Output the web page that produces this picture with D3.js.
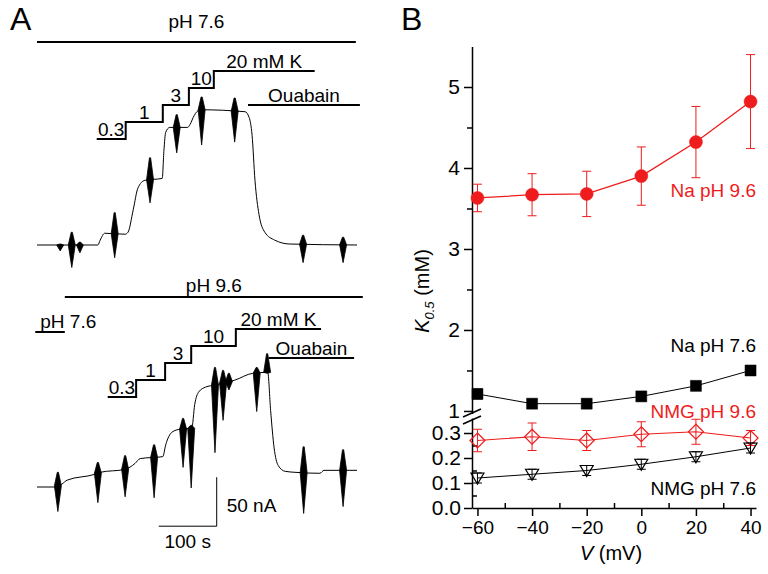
<!DOCTYPE html>
<html>
<head>
<meta charset="utf-8">
<script src="https://cdn.jsdelivr.net/npm/d3@7"></script>
<style>
  body { margin: 0; background: #fff; }
  text { font-family: Arial, "Liberation Sans", sans-serif; fill: #000; }
</style>
</head>
<body>
<script>
// ---- panel A: current traces, [time (s), current (nA)] ----
const trace76 = [[0,0],[40,0],[105,0],[109,5],[117,12],[152,11],[157,13],[166,36],[174,58],[186,66],
  [216,68],[219,97],[222,115],[229,120],[260,120],[264,123],[271,132],[281,138],[359,136],[366,130],
  [371,112],[376,66],[383,31],[393,13],[410,5],[436,1],[552,0]];
// oscillation bursts: [time, max, min]
const bursts76 = [[40,1,-6],[60,13,-23],[74,3,-8],[134,33,-13],[195,89,43],[241,133,94],
  [284,151,102],[341,150,105],[459,10,-18],[528,8,-18]];

const trace96 = [[0,0],[31,0],[43,3],[52,7],[100,13],[109,15],[152,18],[169,24],[178,29],[217,31],
  [222,43],[233,56],[247,59],[267,60],[272,84],[279,97],[291,102],[307,104],[341,109],[372,116],
  [398,117],[403,78],[409,40],[416,22],[428,16],[445,15],[488,14],[495,17],[552,17]];
const bursts96 = [[36,15,-25],[105,25,-16],[152,32,-10],[202,43,-11],[252,70,20],[266,63,-1],
  [307,122,35],[321,119,68],[331,116,99],[379,122,77],[397,136,116],[460,41,-27],[528,38,-20]];

const kLabels = ['0.3', '1', '3', '10', '20 mM K'];
const kSteps76 = [103, 153, 217, 262, 305, 479];
const kSteps96 = [122, 171, 221, 266, 343, 490];
const ouabain76 = [364, 557];
const ouabain96 = [400, 547];
const ph76Bar = [0, 550];
const ph96Bar = [48, 562];
const ph76PreBar = [-3, 48];

// ---- panel B: K0.5 (mM) vs V (mV) ----
const voltages = [-60, -40, -20, 0, 20, 40];
const naPH96 = [3.63, 3.67, 3.68, 3.90, 4.32, 4.82];
const naPH96Err = [0.17, 0.26, 0.28, 0.36, 0.44, 0.58];
const naPH76 = [1.21, 1.09, 1.09, 1.18, 1.31, 1.50];
const naPH76Err = [0.06, 0.02, 0.02, 0.05, 0.05, 0.05];
const nmgPH96 = [0.27, 0.285, 0.27, 0.295, 0.305, 0.28];
const nmgPH96Err = [0.045, 0.055, 0.04, 0.05, 0.05, 0.03];
const nmgPH76 = [0.12, 0.135, 0.15, 0.175, 0.205, 0.24];
const nmgPH76Err = [0.02, 0.02, 0.02, 0.02, 0.02, 0.02];

const red = '#ee1c1c';

const svg = d3.select('body').append('svg')
  .attr('width', 768)
  .attr('height', 574);

// panel letters
svg.append('text').attr('x', 10).attr('y', 30).style('font-size', '32px').text('A');
svg.append('text').attr('x', 401).attr('y', 30).style('font-size', '32px').text('B');

// ================= panel A =================
const xA = d3.scaleLinear().domain([0, 552]).range([37, 357]);   // 100 s = 58 px
const y76 = d3.scaleLinear().domain([0, 50]).range([245, 196]);  // 50 nA = 49 px
const y96 = d3.scaleLinear().domain([0, 50]).range([487, 438]);

function levelAt (trace, t) {
  const i = Math.max(1, Math.min(trace.length - 1, d3.bisector(d => d[0]).right(trace, t)));
  const a = trace[i - 1], b = trace[i];
  return a[1] + (b[1] - a[1]) * (t - a[0]) / (b[0] - a[0]);
}

function drawTrace (trace, bursts, y) {
  const g = svg.append('g');
  g.append('path')
    .attr('d', d3.line().x(d => xA(d[0])).y(d => y(d[1])).curve(d3.curveMonotoneX)(trace))
    .attr('fill', 'none')
    .attr('stroke', '#000')
    .attr('stroke-width', 1);

  const hw = 6;  // half width of a burst in s
  g.selectAll('.burst').data(bursts).enter()
    .append('path')
      .attr('class', 'burst')
      .attr('d', d => {
        const lvl = levelAt(trace, d[0]);
        return 'M' + [
          [xA(d[0] - hw), y(lvl)], [xA(d[0] - 1), y(d[1])], [xA(d[0] + 1), y(d[1])],
          [xA(d[0] + hw), y(lvl)], [xA(d[0]), y(d[2])]
        ].join('L') + 'Z';
      })
      .attr('fill', '#000')
      .attr('stroke', '#000')
      .attr('stroke-width', 0.8);
}

function drawSteps (steps, y0, dy) {
  const g = svg.append('g');
  let d = `M${xA(steps[0])},${y0}`;
  for (let i = 1; i < steps.length; i++) {
    d += `H${xA(steps[i])}`;
    if (i < steps.length - 1) d += `V${y0 - i * dy}`;
  }
  g.append('path').attr('d', d).attr('fill', 'none').attr('stroke', '#000').attr('stroke-width', 2);
  kLabels.forEach((k, i) => {
    g.append('text')
      .attr('x', (xA(steps[i]) + xA(steps[i + 1])) / 2)
      .attr('y', y0 - i * dy - 3)
      .attr('text-anchor', 'middle')
      .style('font-size', '19px')
      .text(k);
  });
}

function drawBar (span, y, label, ty, anchor) {
  svg.append('line')
    .attr('x1', xA(span[0])).attr('x2', xA(span[1]))
    .attr('y1', y).attr('y2', y)
    .attr('stroke', '#000').attr('stroke-width', 2);
  if (!label) return;
  svg.append('text')
    .attr('x', anchor === 'start' ? xA(span[0]) + 5 : (xA(span[0]) + xA(span[1])) / 2)
    .attr('y', ty)
    .attr('text-anchor', anchor || 'middle')
    .style('font-size', '19px')
    .text(label);
}

// top trace, pH 7.6
drawBar(ph76Bar, 42, 'pH 7.6', 28);
drawSteps(kSteps76, 139, 17);
drawBar(ouabain76, 105, 'Ouabain', 102);
drawTrace(trace76, bursts76, y76);

// bottom trace, pH 9.6
drawBar(ph96Bar, 297, 'pH 9.6', 292);
drawBar(ph76PreBar, 332, 'pH 7.6', 328, 'start');
drawSteps(kSteps96, 397, 17);
drawBar(ouabain96, 358, 'Ouabain', 355);
drawTrace(trace96, bursts96, y96);

// scale bar: 100 s, 50 nA
const sb = {t: 310, i: -40};
svg.append('path')
  .attr('d', `M${xA(sb.t - 100)},${y96(sb.i)}H${xA(sb.t)}V${y96(sb.i + 50)}`)
  .attr('fill', 'none').attr('stroke', '#000').attr('stroke-width', 1);
svg.append('text').attr('x', xA(sb.t) + 10).attr('y', y96(sb.i + 15)).style('font-size', '19px').text('50 nA');
svg.append('text').attr('x', xA(sb.t - 50)).attr('y', y96(sb.i) + 22)
  .attr('text-anchor', 'middle').style('font-size', '19px').text('100 s');

// ================= panel B =================
const xB = d3.scaleLinear().domain([-62, 42]).range([472, 756]);
const yHi = d3.scaleLinear().domain([0.97, 5.5]).range([413.4, 46.5]);
const yLo = d3.scaleLinear().domain([0, 0.36]).range([508, 418]);
const yB = v => v >= 0.9 ? yHi(v) : yLo(v);

const axes = svg.append('g');

// x axis: major ticks out, minor ticks in
axes.append('g')
  .attr('transform', 'translate(0,508)')
  .call(d3.axisBottom(xB).tickValues(voltages).tickSize(8).tickSizeOuter(0).tickPadding(5))
  .call(g => g.selectAll('text').style('font-size', '19px').attr('fill', '#000'));
axes.append('g')
  .attr('transform', 'translate(0,508)')
  .call(d3.axisBottom(xB).tickValues([-50, -30, -10, 10, 30]).tickSize(-5).tickFormat(''))
  .call(g => g.select('.domain').remove());

// y axis upper segment
axes.append('g')
  .attr('transform', 'translate(472,0)')
  .call(d3.axisLeft(yHi).tickValues([1, 2, 3, 4, 5]).tickFormat(d3.format('d'))
    .tickSize(8).tickSizeOuter(0).tickPadding(4))
  .call(g => g.selectAll('text').style('font-size', '21px').attr('fill', '#000'));
axes.append('g')
  .attr('transform', 'translate(472,0)')
  .call(d3.axisLeft(yHi).tickValues([1.5, 2.5, 3.5, 4.5]).tickSize(5).tickFormat(''))
  .call(g => g.select('.domain').remove());

// y axis lower segment
axes.append('g')
  .attr('transform', 'translate(472,0)')
  .call(d3.axisLeft(yLo).tickValues([0, 0.1, 0.2, 0.3]).tickFormat(d3.format('.1f'))
    .tickSize(8).tickSizeOuter(0).tickPadding(3))
  .call(g => g.selectAll('text').style('font-size', '21px').attr('fill', '#000'));
axes.append('g')
  .attr('transform', 'translate(472,0)')
  .call(d3.axisRight(yLo).tickValues([0.05, 0.15, 0.25]).tickSize(5).tickFormat(''))
  .call(g => g.select('.domain').remove());

axes.selectAll('.domain, .tick line').attr('stroke', '#000').attr('stroke-width', 1.5);

// axis break marks
[0, 7].forEach(off => {
  axes.append('line')
    .attr('x1', 463).attr('y1', 417 + off)
    .attr('x2', 481).attr('y2', 409 + off)
    .attr('stroke', '#000').attr('stroke-width', 1.5);
});
axes.append('rect').attr('x', 470).attr('y', 415).attr('width', 4).attr('height', 3).attr('fill', '#fff');

// axis titles
const yTitle = axes.append('text')
  .attr('transform', 'translate(429,291) rotate(-90)')
  .attr('text-anchor', 'middle')
  .style('font-size', '20px');
yTitle.append('tspan').style('font-style', 'italic').text('K');
yTitle.append('tspan').style('font-style', 'italic').style('font-size', '13px').attr('dy', 5).text('0.5');
yTitle.append('tspan').attr('dy', -5).text(' (mM)');

const xTitle = axes.append('text')
  .attr('x', 611).attr('y', 560)
  .attr('text-anchor', 'middle')
  .style('font-size', '20px');
xTitle.append('tspan').style('font-style', 'italic').text('V');
xTitle.append('tspan').text(' (mV)');

// series
const series = [
  {vals: naPH96, err: naPH96Err, color: red, sym: 'circle', lw: 1.3},
  {vals: naPH76, err: naPH76Err, color: '#000', sym: 'square', lw: 1},
  {vals: nmgPH96, err: nmgPH96Err, color: red, sym: 'diamond', lw: 1.2},
  {vals: nmgPH76, err: nmgPH76Err, color: '#000', sym: 'triangleDown', lw: 1}
];

const symbolPath = {
  circle: 'M-6.5,0A6.5,6.5 0 1,0 6.5,0A6.5,6.5 0 1,0 -6.5,0Z',
  square: 'M-5.5,-5.5H5.5V5.5H-5.5Z',
  diamond: 'M0,-7.5L7.5,0L0,7.5L-7.5,0Z',
  triangleDown: 'M-6.5,-5L6.5,-5L0,6Z'
};

const line = d3.line().x(d => xB(d.v)).y(d => yB(d.k));

series.forEach(s => {
  const pts = voltages.map((v, i) => ({v, k: s.vals[i], e: s.err[i]}));
  const g = svg.append('g');

  g.append('path')
    .attr('d', line(pts))
    .attr('fill', 'none')
    .attr('stroke', s.color)
    .attr('stroke-width', s.lw);

  const eb = g.selectAll('.err').data(pts).enter().append('g').attr('class', 'err');
  eb.append('line')
    .attr('x1', d => xB(d.v)).attr('x2', d => xB(d.v))
    .attr('y1', d => yB(d.k - d.e)).attr('y2', d => yB(d.k + d.e));
  eb.append('line')
    .attr('x1', d => xB(d.v) - 4.5).attr('x2', d => xB(d.v) + 4.5)
    .attr('y1', d => yB(d.k - d.e)).attr('y2', d => yB(d.k - d.e));
  eb.append('line')
    .attr('x1', d => xB(d.v) - 4.5).attr('x2', d => xB(d.v) + 4.5)
    .attr('y1', d => yB(d.k + d.e)).attr('y2', d => yB(d.k + d.e));
  eb.selectAll('line').attr('stroke', s.color).attr('stroke-width', 1);

  const filled = s.sym === 'circle' || s.sym === 'square';
  g.selectAll('.pt').data(pts).enter()
    .append('path')
      .attr('class', 'pt')
      .attr('transform', d => `translate(${xB(d.v)},${yB(d.k)})`)
      .attr('d', symbolPath[s.sym])
      .attr('fill', filled ? s.color : 'none')
      .attr('stroke', s.color)
      .attr('stroke-width', filled ? 0.5 : 1.2);
});

// series labels
const labels = [
  {text: 'Na pH 9.6', y: 197, color: red},
  {text: 'Na pH 7.6', y: 352, color: '#000'},
  {text: 'NMG pH 9.6', y: 418, color: red},
  {text: 'NMG pH 7.6', y: 495, color: '#000'}
];
svg.selectAll('.slabel').data(labels).enter()
  .append('text')
    .attr('class', 'slabel')
    .attr('x', 756)
    .attr('y', d => d.y)
    .attr('text-anchor', 'end')
    .style('font-size', '19px')
    .style('fill', d => d.color)
    .text(d => d.text);
</script>
</body>
</html>
